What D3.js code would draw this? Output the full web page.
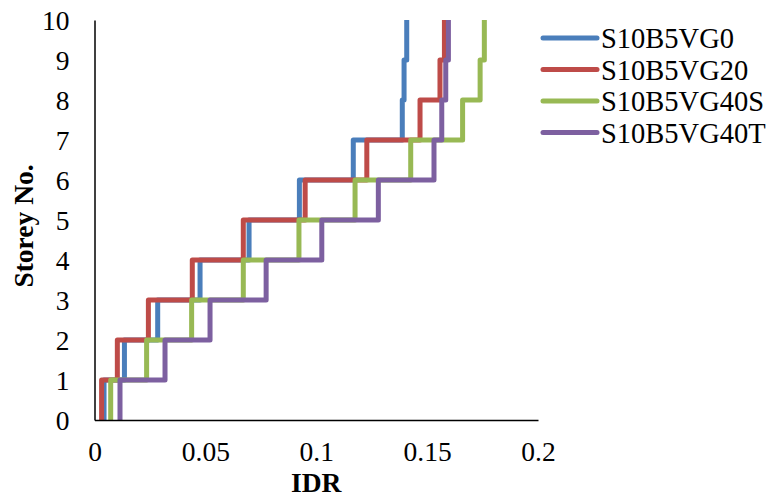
<!DOCTYPE html>
<html>
<head>
<meta charset="utf-8">
<script src="https://cdn.jsdelivr.net/npm/d3@7"></script>
<style>
  body { margin: 0; background: #fff; }
  svg { display: block; }
  text { font-family: "Liberation Serif", "Times New Roman", serif; fill: #000; }
</style>
</head>
<body>
<div id="chart"></div>
<script>
// storey numbers and inter-storey drift ratio for each series (storey 1..10)
const storeys = [1, 2, 3, 4, 5, 6, 7, 8, 9, 10];
const seriesNames = ['S10B5VG0', 'S10B5VG20', 'S10B5VG40S', 'S10B5VG40T'];
const idrVG0   = [0.0043, 0.0135, 0.0285, 0.0476, 0.0697, 0.0924, 0.1167, 0.1388, 0.1396, 0.1408];
const idrVG20  = [0.0032, 0.0103, 0.0243, 0.0441, 0.0671, 0.0950, 0.1228, 0.1468, 0.1558, 0.1578];
const idrVG40S = [0.0073, 0.0235, 0.0438, 0.0671, 0.0922, 0.1175, 0.1426, 0.1660, 0.1739, 0.1758];
const idrVG40T = [0.0115, 0.0318, 0.0521, 0.0774, 0.1025, 0.1280, 0.1531, 0.1566, 0.1584, 0.1596];
const xTicks = [0, 0.05, 0.1, 0.15, 0.2];
const yTicks = [0, 1, 2, 3, 4, 5, 6, 7, 8, 9, 10];

const COLORS = ['#4a7ebb', '#be4b48', '#98b954', '#7d60a0'];
const WIDTH = 772;
const HEIGHT = 499;
const FONT = 27.5;

const allSeries = [idrVG0, idrVG20, idrVG40S, idrVG40T];

const svg = d3.select('#chart')
              .append('svg')
              .attr('width', WIDTH)
              .attr('height', HEIGHT);

const xScale = d3.scaleLinear()
                 .domain([0, 0.2])
                 .range([94.5, 538]);

const yScale = d3.scaleLinear()
                 .domain([0, 10])
                 .range([420, 20]);

// step line: vertical from storey i-1 to i at the drift value, then across
const stepLine = d3.line()
                   .x(d => xScale(d[0]))
                   .y(d => yScale(d[1]))
                   .curve(d3.curveStepAfter);

const toPoints = values => {
  const pts = [[values[0], 0]];
  storeys.forEach((s, i) => pts.push([values[i], s]));
  return pts;
};

svg.selectAll('path.series')
   .data(allSeries)
   .enter()
   .append('path')
   .attr('class', 'series')
   .attr('d', d => stepLine(toPoints(d)))
   .attr('fill', 'none')
   .attr('stroke', (d, i) => COLORS[i])
   .attr('stroke-width', 5)
   .attr('stroke-linejoin', 'round');

// axes (no tick marks, just the lines and labels)
const xAxis = d3.axisBottom(xScale)
                .tickValues(xTicks)
                .tickSize(0)
                .tickPadding(21)
                .tickFormat(d => d3.format('')(d));

const yAxis = d3.axisLeft(yScale)
                .tickValues(yTicks)
                .tickSize(0)
                .tickPadding(25);

const xAx = svg.append('g')
   .attr('transform', `translate(0, ${yScale(0)})`)
   .call(xAxis);

const yAx = svg.append('g')
   .attr('transform', `translate(${xScale(0)}, 0)`)
   .call(yAxis);

[xAx, yAx].forEach(ax => {
  ax.select('.domain').attr('stroke', '#000').attr('stroke-width', 1.5);
  ax.selectAll('text')
    .style('font-family', '"Liberation Serif", serif')
    .style('font-size', FONT + 'px')
    .attr('fill', '#000');
});

xAx.selectAll('text').attr('dy', '0.71em');
yAx.selectAll('text').attr('dy', '0.33em');

svg.append('text')
   .attr('x', (xScale(0) + xScale(0.2)) / 2)
   .attr('y', 492)
   .attr('text-anchor', 'middle')
   .style('font-size', FONT + 'px')
   .style('font-weight', 'bold')
   .text('IDR');

svg.append('text')
   .attr('transform', 'translate(33, 226) rotate(-90)')
   .attr('text-anchor', 'middle')
   .style('font-size', FONT + 'px')
   .style('font-weight', 'bold')
   .text('Storey No.');

// legend
const legend = svg.append('g')
                  .attr('transform', 'translate(543, 38)');

const items = legend.selectAll('g')
                    .data(seriesNames)
                    .enter()
                    .append('g')
                    .attr('transform', (d, i) => `translate(0, ${i * 31.5})`);

items.append('line')
     .attr('x1', 0)
     .attr('x2', 54)
     .attr('stroke', (d, i) => COLORS[i])
     .attr('stroke-width', 5)
     .attr('stroke-linecap', 'round');

items.append('text')
     .attr('x', 58)
     .attr('y', 10)
     .style('font-size', '28.5px')
     .text(d => d);
</script>
</body>
</html>
